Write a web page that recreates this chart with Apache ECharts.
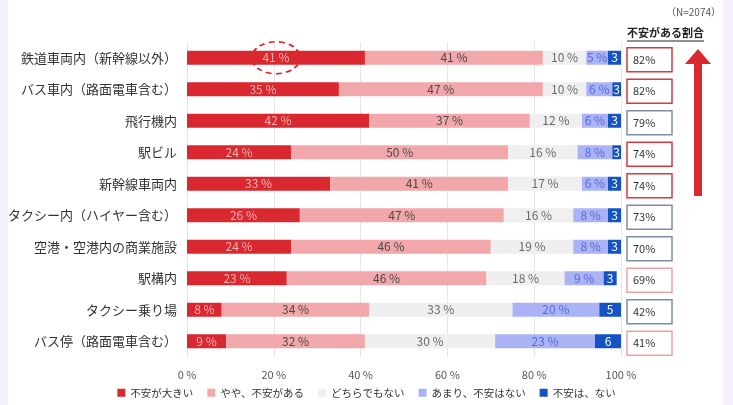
<!DOCTYPE html>
<html><head><meta charset="utf-8">
<script src="https://cdn.jsdelivr.net/npm/echarts@6/dist/echarts.min.js"></script>
<style>html,body{margin:0;padding:0;background:#fff}#c{width:733px;height:405px}</style>
</head><body><div id="c"></div>
<script>
const categories = ['鉄道車両内（新幹線以外）','バス車内（路面電車含む）','飛行機内','駅ビル','新幹線車両内','タクシー内（ハイヤー含む）','空港・空港内の商業施設','駅構内','タクシー乗り場','バス停（路面電車含む）'];
const seriesNames = ['不安が大きい','やや、不安がある','どちらでもない','あまり、不安はない','不安は、ない'];
const veryAnxious = [41,35,42,24,33,26,24,23,8,9];
const somewhatAnxious = [41,47,37,50,41,47,46,46,34,32];
const neither = [10,10,12,16,17,16,19,18,33,30];
const notMuch = [5,6,6,8,6,8,8,9,20,23];
const notAtAll = [3,3,3,3,3,3,3,3,5,6];
const anxiousShare = [82,82,79,74,74,73,70,69,42,41];
const xTicks = [0,20,40,60,80,100];
const noteText = '（N=2074）';
const headerText = '不安がある割合';

const colors = ['#d9282f','#f2a7aa','#efefef','#aab3f6','#1553c4'];
const labelColors = ['#f6b0b2','#4a4a4a','#6a6a6a','#5a6bd8','#ffffff'];
const boxBorder = ['#d43a40','#d43a40','#7d8da6','#d43a40','#d43a40','#7d8da6','#7d8da6','#eba3a5','#7d8da6','#eba3a5'];
const FONT = '"Noto Sans CJK JP","Noto Sans",sans-serif';
const allData = [veryAnxious, somewhatAnxious, neither, notMuch, notAtAll];

const chart = echarts.init(document.getElementById('c'));
const series = seriesNames.map((n,i)=>({
  name:n, type:'bar', stack:'t', barWidth:14,
  data: allData[i],
  itemStyle:{color:colors[i]},
  label:{show:true, position:'inside', color:labelColors[i], fontSize:12, fontFamily:FONT,
    formatter: p => i===4 ? String(p.value) : p.value + ' %'}
}));

chart.setOption({
  animation:false,
  textStyle:{fontFamily:FONT},
  grid:{left:187, right:112, top:42, bottom:48},
  xAxis:{type:'value', min:xTicks[0], max:xTicks[xTicks.length-1], interval:20,
    axisLabel:{formatter:'{value} %', color:'#555', fontSize:11, margin:12},
    splitLine:{lineStyle:{color:'#e6e6e6'}}, axisLine:{show:false}, axisTick:{show:false}},
  yAxis:{type:'category', data:categories, inverse:true,
    axisLine:{show:false}, axisTick:{show:false},
    axisLabel:{color:'#333', fontSize:13, margin:10}},
  legend:{bottom:2, left:'center', itemWidth:8, itemHeight:8, itemGap:14, icon:'rect',
    textStyle:{fontSize:10.5, color:'#333'}, data:seriesNames},
  series: series
});

function decorate(){
  const g = [];
  g.push({type:'rect', left:0, top:0, shape:{width:8,height:405}, style:{fill:'#f5effc'}, silent:true});
  g.push({type:'rect', left:723, top:0, shape:{width:10,height:405}, style:{fill:'#f5effc'}, silent:true});
  const bx = 627, bw = 45, bh = 24;
  categories.forEach((c,i)=>{
    const y = chart.convertToPixel({yAxisIndex:0}, c);
    g.push({type:'rect', shape:{x:bx, y:y-bh/2+2, width:bw, height:bh},
      style:{fill:'#fff', stroke:boxBorder[i], lineWidth:1.5}});
    g.push({type:'text', x:bx+6, y:y+2, style:{text:anxiousShare[i]+'%', fill:'#333', fontSize:11, fontFamily:FONT, verticalAlign:'middle'}});
  });
  const p = chart.convertToPixel({xAxisIndex:0,yAxisIndex:0}, [veryAnxious[0]/2, categories[0]]);
  g.push({type:'circle', x:p[0], y:p[1], scaleX:1.5, shape:{cx:0,cy:0,r:16},
    style:{fill:'none', stroke:'#d9282f', lineWidth:1.6, lineDash:[4,3]}});
  g.push({type:'polygon', shape:{points:[[698,49],[711,64],[702,64],[702,196],[694,196],[694,64],[685,64]]},
    style:{fill:'#d9282f'}});
  g.push({type:'text', x:627, y:33, style:{text:headerText, fill:'#222', fontSize:11, fontWeight:'bold', fontFamily:FONT, verticalAlign:'middle'}});
  g.push({type:'line', shape:{x1:627,y1:41,x2:704,y2:41}, style:{stroke:'#222', lineWidth:1}});
  g.push({type:'text', x:721, y:12, style:{text:noteText, fill:'#555', fontSize:10, fontFamily:FONT, align:'right', verticalAlign:'middle'}});
  chart.setOption({graphic:g});
}
decorate();
</script></body></html>
